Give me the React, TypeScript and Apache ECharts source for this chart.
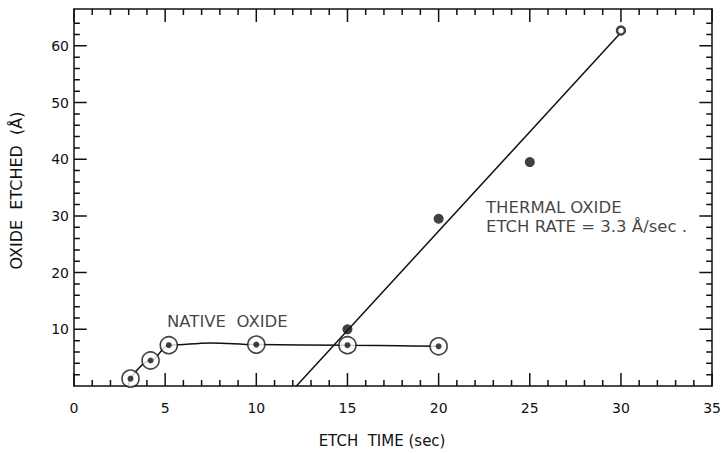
import React, { useEffect, useRef } from "react";
import * as echarts from "echarts";

// Native oxide measurements (circled points)
const nativeTime = [3.1, 4.2, 5.2, 10, 15, 20];
const nativeEtched = [1.3, 4.5, 7.2, 7.3, 7.2, 7.0];
// Native oxide fitted curve
const nativeCurveTime = [3.1, 4.2, 5.2, 7.5, 10, 15, 20];
const nativeCurveEtched = [1.3, 4.5, 7.2, 7.6, 7.3, 7.2, 7.0];
// Thermal oxide measurements (solid dots)
const thermalTime = [15, 20, 25];
const thermalEtched = [10, 29.5, 39.5];
// Thermal oxide open point
const thermalOpenTime = [30];
const thermalOpenEtched = [62.7];
// Thermal oxide fitted line
const thermalLineTime = [12.2, 29.9];
const thermalLineEtched = [0, 62.0];

// Annotations
const annotationTexts = ["NATIVE  OXIDE", "THERMAL OXIDE", "ETCH RATE = 3.3 Å/sec ."];
const annotationTime = [5.1, 22.6, 22.6];
const annotationEtched = [11.4, 31.4, 28.1];

// Tick values (drawn on all four sides, pointing inward)
const xMajorTicks = [0, 5, 10, 15, 20, 25, 30, 35];
const xMinorTicks = [1, 2, 3, 4, 6, 7, 8, 9, 11, 12, 13, 14, 16, 17, 18, 19, 21, 22, 23, 24, 26, 27, 28, 29, 31, 32, 33, 34];
const yMajorTicks = [10, 20, 30, 40, 50, 60];
const yMinorTicks = [2, 4, 6, 8, 12, 14, 16, 18, 22, 24, 26, 28, 32, 34, 36, 38, 42, 44, 46, 48, 52, 54, 56, 58, 62, 64];

const X_MIN = 0, X_MAX = 35, X_MAJOR = 5;
const Y_MIN = 0, Y_MAX = 66.5, Y_MAJOR = 10;

// tick lengths expressed in axis units (≈13 px major, ≈6 px minor)
const X_TICK_MAJOR = 2.3, X_TICK_MINOR = 1.05; // vertical ticks, in y units
const Y_TICK_MAJOR = 0.7, Y_TICK_MINOR = 0.32; // horizontal ticks, in x units

const FONT = "DejaVu Sans";
const INK = "#111111";

const zip = (a: number[], b: number[]) => a.map((v, i) => [v, b[i]]);

function tickSegments(): any[] {
  const out: any[] = [];
  const push = (a: number[], b: number[]) => {
    out.push(a, b, "-");
  };
  xMajorTicks.forEach((v) => {
    push([v, Y_MIN], [v, Y_MIN + X_TICK_MAJOR]);
    push([v, Y_MAX], [v, Y_MAX - X_TICK_MAJOR]);
  });
  xMinorTicks.forEach((v) => {
    push([v, Y_MIN], [v, Y_MIN + X_TICK_MINOR]);
    push([v, Y_MAX], [v, Y_MAX - X_TICK_MINOR]);
  });
  yMajorTicks.forEach((v) => {
    push([X_MIN, v], [X_MIN + Y_TICK_MAJOR, v]);
    push([X_MAX, v], [X_MAX - Y_TICK_MAJOR, v]);
  });
  yMinorTicks.forEach((v) => {
    push([X_MIN, v], [X_MIN + Y_TICK_MINOR, v]);
    push([X_MAX, v], [X_MAX - Y_TICK_MINOR, v]);
  });
  return out;
}

export default function App() {
  const ref = useRef<HTMLDivElement>(null);
  useEffect(() => {
    if (!ref.current) return;
    const chart = echarts.init(ref.current, null, { renderer: "svg", width: 724, height: 453 });
    const mkLine = () => ({ color: INK, width: 1.5 });
    const xBase = { type: "value" as const, min: X_MIN, max: X_MAX, interval: X_MAJOR, splitLine: { show: false } };
    const yBase = { type: "value" as const, min: Y_MIN, max: Y_MAX, interval: Y_MAJOR, splitLine: { show: false } };

    chart.setOption({
      animation: false,
      backgroundColor: "#ffffff",
      grid: { left: 70, right: 7, top: 9, bottom: 66, containLabel: false },
      xAxis: [
        {
          ...xBase,
          position: "bottom",
          axisLine: { show: true, onZero: false, lineStyle: mkLine() },
          axisTick: { show: false },
          axisLabel: { show: true, color: INK, fontFamily: FONT, fontSize: 14, margin: 15 },
          name: "ETCH  TIME (sec)",
          nameLocation: "middle",
          nameGap: 47,
          nameTextStyle: { color: INK, fontFamily: FONT, fontSize: 15, padding: [0, 22, 0, 0] },
        },
        {
          ...xBase,
          position: "top",
          axisLine: { show: true, onZero: false, lineStyle: mkLine() },
          axisTick: { show: false },
          axisLabel: { show: false },
        },
      ],
      yAxis: [
        {
          ...yBase,
          position: "left",
          axisLine: { show: true, onZero: false, lineStyle: mkLine() },
          axisTick: { show: false },
          axisLabel: {
            show: true,
            color: INK,
            fontFamily: FONT,
            fontSize: 14,
            margin: 5,
            formatter: (v: number) => (v > 0 && v % 10 === 0 ? String(v) : ""),
          },
          name: "OXIDE  ETCHED  (Å)",
          nameLocation: "middle",
          nameGap: 50,
          nameTextStyle: { color: INK, fontFamily: FONT, fontSize: 16, padding: [0, 0, 0, 14] },
        },
        {
          ...yBase,
          position: "right",
          axisLine: { show: true, onZero: false, lineStyle: mkLine() },
          axisTick: { show: false },
          axisLabel: { show: false },
        },
      ],
      series: [
        {
          name: "Frame ticks",
          type: "line",
          data: tickSegments(),
          connectNulls: false,
          showSymbol: false,
          symbol: "none",
          clip: false,
          silent: true,
          lineStyle: { color: INK, width: 1.5 },
          z: 1,
        },
        {
          name: "Native oxide curve",
          type: "line",
          data: zip(nativeCurveTime, nativeCurveEtched),
          smooth: 0.4,
          smoothMonotone: "x",
          showSymbol: false,
          symbol: "none",
          lineStyle: { color: INK, width: 1.5 },
          z: 2,
        },
        {
          name: "Thermal oxide fit",
          type: "line",
          data: zip(thermalLineTime, thermalLineEtched),
          showSymbol: false,
          symbol: "none",
          lineStyle: { color: INK, width: 1.5 },
          z: 2,
        },
        {
          name: "Native oxide rings",
          type: "scatter",
          data: zip(nativeTime, nativeEtched),
          symbol: "circle",
          symbolSize: 17,
          itemStyle: { color: "#ffffff", borderColor: INK, borderWidth: 1.6 },
          z: 3,
        },
        {
          name: "Native oxide dots",
          type: "scatter",
          data: zip(nativeTime, nativeEtched),
          symbol: "circle",
          symbolSize: 6,
          itemStyle: { color: INK },
          z: 4,
        },
        {
          name: "Thermal oxide",
          type: "scatter",
          data: zip(thermalTime, thermalEtched),
          symbol: "circle",
          symbolSize: 10,
          itemStyle: { color: INK },
          z: 4,
        },
        {
          name: "Thermal oxide open",
          type: "scatter",
          data: zip(thermalOpenTime, thermalOpenEtched),
          symbol: "circle",
          symbolSize: 8,
          itemStyle: { color: "#ffffff", borderColor: INK, borderWidth: 2.5 },
          z: 4,
        },
        {
          name: "Annotations",
          type: "scatter",
          data: annotationTexts.map((t, i) => ({ name: t, value: [annotationTime[i], annotationEtched[i]] })),
          symbolSize: 0,
          silent: true,
          label: {
            show: true,
            position: "right",
            distance: 0,
            formatter: (p: any) => p.name,
            color: INK,
            fontFamily: FONT,
            fontSize: 16.5,
          },
          z: 5,
        },
      ],
    });
    return () => chart.dispose();
  }, []);
  return (
    <div
      ref={ref}
      style={{ position: "absolute", left: 0, top: 0, width: 724, height: 453, background: "#fff" }}
    />
  );
}
